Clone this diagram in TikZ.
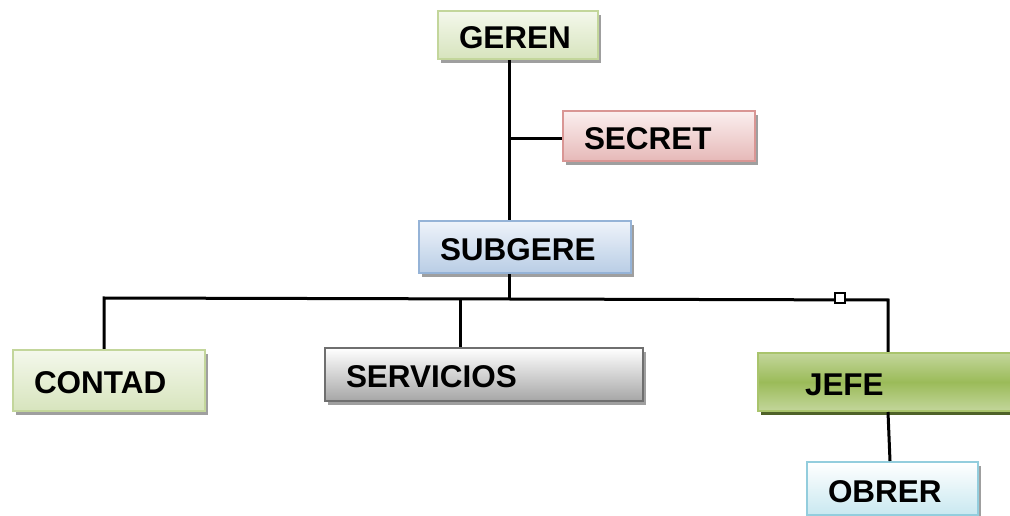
\documentclass[tikz,border=0pt]{standalone}
\usepackage{fontspec}
\setmainfont{Liberation Sans}
\usetikzlibrary{shadows}
\newlength\pxu
\setlength\pxu{0.75pt}
\definecolor{grnEdge}{HTML}{C3D69B}
\definecolor{grnTop}{HTML}{F4F8EC}
\definecolor{grnBot}{HTML}{D7E4BD}
\definecolor{redEdge}{HTML}{D99694}
\definecolor{redTop}{HTML}{FBEFEF}
\definecolor{redBot}{HTML}{E6B9B8}
\definecolor{bluEdge}{HTML}{95B3D7}
\definecolor{bluTop}{HTML}{EEF3FA}
\definecolor{bluBot}{HTML}{B9CDE5}
\definecolor{gryEdge}{HTML}{6F6F6F}
\definecolor{gryTop}{HTML}{FFFFFF}
\definecolor{gryBot}{HTML}{A6A6A6}
\definecolor{jefEdge}{HTML}{A9C46C}
\definecolor{jefLight}{HTML}{C3D69B}
\definecolor{jefMid}{HTML}{9BBB59}
\definecolor{jefShadow}{HTML}{4F6228}
\definecolor{cyaEdge}{HTML}{93CDDD}
\definecolor{cyaTop}{HTML}{FFFFFF}
\definecolor{cyaBot}{HTML}{C9E8F0}
% box label: fixed width, text inset from the left edge, baseline below the box centre
\newcommand\boxlabel[3]{\makebox[#1\pxu][l]{\hspace*{#2\pxu}\raisebox{-13.5\pxu}[0pt][0pt]{#3}}}
\tikzset{
  box/.style args={#1/#2/#3/#4}{rectangle, anchor=north west, draw=#2, line width=2\pxu,
    top color=#3, bottom color=#4, minimum height=#1\pxu,
    inner xsep=0pt, inner ysep=0pt,
    font=\fontsize{23.6pt}{26pt}\selectfont\bfseries,
    general shadow={fill=gray!75, shadow xshift=3\pxu, shadow yshift=-4\pxu}},
  wire/.style={line width=3\pxu, black},
}
\begin{document}
\begin{tikzpicture}[x=1\pxu, y=-1\pxu]
\useasboundingbox (0,0) rectangle (1010,516);
\clip (0,0) rectangle (1010,516);
\fill[white] (0,0) rectangle (1010,516);

% boxes
\node[box={48/grnEdge/grnTop/grnBot}] (geren) at (437,10) {\boxlabel{160}{21}{GEREN}};
\node[box={50/redEdge/redTop/redBot}] (secret) at (562,110) {\boxlabel{192}{21}{SECRET}};
\node[box={52/bluEdge/bluTop/bluBot}] (subgere) at (418,220) {\boxlabel{212}{21}{SUBGERE}};
\node[box={61/grnEdge/grnTop/grnBot}] (contad) at (12,349) {\boxlabel{192}{21}{CONTAD}};
\node[box={53/gryEdge/gryTop/gryBot}] (servicios) at (324,347) {\boxlabel{318}{21}{SERVICIOS}};
\node[box={58/jefEdge/jefLight/jefLight}, middle color=jefMid,
      general shadow={fill=jefShadow, shadow xshift=3\pxu, shadow yshift=-4\pxu}] (jefe) at (757,352) {\boxlabel{270}{47}{JEFE}};
\node[box={53/cyaEdge/cyaTop/cyaBot}] (obrer) at (806,461) {\boxlabel{171}{21}{OBRER}};

% connector geometry
\coordinate (trunk) at (509,0);
\coordinate (busL) at (104,298);
\coordinate (busM) at (509,299);
\coordinate (busR) at (888,300);
\coordinate (srvTap) at (460,299);
\coordinate (obrTap) at (890,0);

\draw[wire] (trunk |- geren.south) -- (trunk |- subgere.north);
\draw[wire] (trunk |- 0,139) -- (secret.west |- 0,139);
\draw[wire] (trunk |- subgere.south) -- (busM);
\draw[wire, line join=miter] (busL |- contad.north) -- (busL) -- (busM) -- (busR) -- (busR |- jefe.north);
\draw[wire] (srvTap) -- (srvTap |- servicios.north);
\draw[wire] (busR |- jefe.south) -- (obrTap |- obrer.north);
\node[draw=black, fill=white, line width=1.5\pxu, minimum size=10\pxu, inner sep=0pt] (mark) at (840,298) {};
\end{tikzpicture}
\end{document}
